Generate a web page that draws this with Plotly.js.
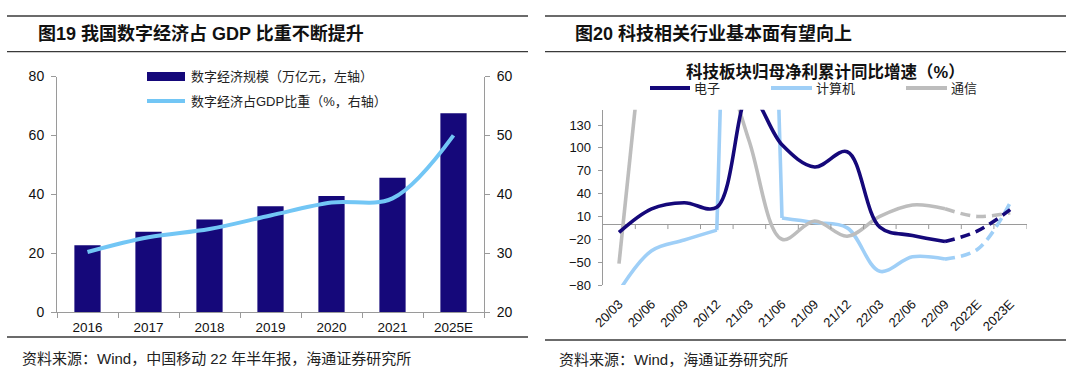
<!DOCTYPE html>
<html>
<head>
<meta charset="utf-8">
<script src="https://cdn.plot.ly/plotly-3.0.1.min.js"></script>
<style>html,body{margin:0;padding:0;background:#fff;}#chart{width:1080px;height:370px;}</style>
</head>
<body>
<div id="chart"></div>
<script>
// ---------- data: left chart ----------
const years = ['2016', '2017', '2018', '2019', '2020', '2021', '2025E'];
const digitalScale = [22.7, 27.3, 31.4, 35.9, 39.4, 45.6, 67.5];      // 万亿元, left axis
const digitalShare = [30.2, 32.7, 34.1, 36.4, 38.6, 39.3, 50.0];      // %, right axis

// ---------- data: right chart ----------
const quarters = ['20/03', '20/06', '20/09', '20/12', '21/03', '21/06', '21/09', '21/12', '22/03', '22/06', '22/09', '2022E', '2023E'];
const electronics = [-11, 20, 28, 22, 170, 104, 75, 95, -4, -15, -23, -9, 19];
const computers = [-88, -35, -21, -8, 1500, 8, 2, -5, -62, -43, -46, -33, 28];
const telecom = [-52, 360, 330, 240, 108, -20, 4, -16, 10, 25, 20, 10, 15];
const lastActualIndex = 10; // 22/09; later points are estimates (dashed)

// ---------- styles ----------
const NAVY = '#15087a';
const LBLUE_L = '#72c6f5';
const LBLUE_R = '#9fcff7';
const GRAY = '#bdbdbd';
const AXIS = '#9a9a9a';
const FONT = 'Liberation Sans, Arial, Noto Sans CJK SC, sans-serif';
const W = 1080, H = 370;
const px = v => v / W;
const py = v => 1 - v / H;

// keep only points i0..i1 of a series (others null) so a series can be drawn in styled pieces
const seg = (arr, i0, i1) => arr.map((v, i) => (i >= i0 && i <= i1) ? v : null);
const last = quarters.length - 1;

const traces = [];
traces.push({
  type: 'bar', x: years, y: digitalScale, xaxis: 'x', yaxis: 'y',
  marker: {color: NAVY}, width: 0.43, hoverinfo: 'skip'
});
traces.push({
  type: 'scatter', mode: 'lines', x: years, y: digitalShare, xaxis: 'x', yaxis: 'y2',
  line: {color: LBLUE_L, width: 4, shape: 'spline', smoothing: 1}, hoverinfo: 'skip'
});

function piece(arr, i0, i1, color, shape, dashed) {
  const line = {color: color, width: 3.6, shape: shape};
  if (shape === 'spline') line.smoothing = 1;
  if (dashed) line.dash = '10px,6px';
  traces.push({type: 'scatter', mode: 'lines', x: quarters, y: seg(arr, i0, i1), xaxis: 'x2', yaxis: 'y3',
    line: line, connectgaps: false, hoverinfo: 'skip'});
}
// 计算机
piece(computers, 0, 3, LBLUE_R, 'spline');
piece(computers, 3, 5, LBLUE_R, 'linear');
piece(computers, 5, lastActualIndex, LBLUE_R, 'spline');
piece(computers, lastActualIndex, last, LBLUE_R, 'spline', true);
// 通信
piece(telecom, 0, 1, GRAY, 'linear');
piece(telecom, 1, lastActualIndex, GRAY, 'spline');
piece(telecom, lastActualIndex, last, GRAY, 'spline', true);
// 电子
piece(electronics, 0, lastActualIndex, NAVY, 'spline');
piece(electronics, lastActualIndex, last, NAVY, 'spline', true);

const shapes = [];
// horizontal rules
[[16, 7, 528], [51.7, 7, 528], [337, 7, 528], [16, 545, 1066], [51.7, 545, 1066], [340, 545, 1066]].forEach(([y, x0, x1]) => {
  shapes.push({type: 'line', xref: 'paper', yref: 'paper', x0: px(x0), x1: px(x1), y0: py(y), y1: py(y),
    line: {color: '#3a3a3a', width: 1.3}});
});
// left legend symbols
shapes.push({type: 'rect', xref: 'paper', yref: 'paper', x0: px(147), x1: px(185), y0: py(72), y1: py(81),
  fillcolor: NAVY, line: {width: 0}});
shapes.push({type: 'line', xref: 'paper', yref: 'paper', x0: px(147), x1: px(185), y0: py(101), y1: py(101),
  line: {color: LBLUE_L, width: 4}});
// right legend symbols
[[650, 690, NAVY], [771, 812, LBLUE_R], [906, 947, GRAY]].forEach(([x0, x1, c]) => {
  shapes.push({type: 'line', xref: 'paper', yref: 'paper', x0: px(x0), x1: px(x1), y0: py(88), y1: py(88),
    line: {color: c, width: 4}});
});
// right x-axis tick marks on the zero line (category boundaries)
for (let k = 0; k < quarters.length; k++) {
  shapes.push({type: 'line', xref: 'x2', yref: 'y3', ysizemode: 'pixel', yanchor: 0,
    x0: k + 0.5, x1: k + 0.5, y0: 0, y1: -5, line: {color: AXIS, width: 1}});
}

const annotations = [
  {text: '<b>图19 我国数字经济占 GDP 比重不断提升</b>', x: px(36), y: py(34), xanchor: 'left', yanchor: 'middle',
    font: {size: 18, color: '#111', family: FONT}},
  {text: '<b>图20 科技相关行业基本面有望向上</b>', x: px(573), y: py(34), xanchor: 'left', yanchor: 'middle',
    font: {size: 18, color: '#111', family: FONT}},
  {text: '<b>科技板块归母净利累计同比增速（%）</b>', x: px(825), y: py(72), xanchor: 'center', yanchor: 'middle',
    font: {size: 16.5, color: '#111', family: FONT}},
  {text: '数字经济规模（万亿元，左轴）', x: px(189), y: py(76.5), xanchor: 'left', yanchor: 'middle',
    font: {size: 13, color: '#222', family: FONT}},
  {text: '数字经济占GDP比重（%，右轴）', x: px(189), y: py(101), xanchor: 'left', yanchor: 'middle',
    font: {size: 13, color: '#222', family: FONT}},
  {text: '电子', x: px(692), y: py(88), xanchor: 'left', yanchor: 'middle', font: {size: 13, color: '#222', family: FONT}},
  {text: '计算机', x: px(814), y: py(88), xanchor: 'left', yanchor: 'middle', font: {size: 13, color: '#222', family: FONT}},
  {text: '通信', x: px(949), y: py(88), xanchor: 'left', yanchor: 'middle', font: {size: 13, color: '#222', family: FONT}},
  {text: '资料来源：Wind，中国移动 22 年半年报，海通证券研究所', x: px(20), y: py(358), xanchor: 'left', yanchor: 'middle',
    font: {size: 15, color: '#222', family: FONT}},
  {text: '资料来源：Wind，海通证券研究所', x: px(557), y: py(359), xanchor: 'left', yanchor: 'middle',
    font: {size: 15, color: '#222', family: FONT}}
].map(a => Object.assign({xref: 'paper', yref: 'paper', showarrow: false}, a));

const layout = {
  width: W, height: H,
  margin: {l: 0, r: 0, t: 0, b: 0},
  paper_bgcolor: '#ffffff', plot_bgcolor: 'rgba(0,0,0,0)',
  showlegend: false,
  font: {family: FONT, color: '#111'},
  xaxis: {domain: [px(57), px(484)], anchor: 'y', type: 'category', showline: true, linecolor: AXIS, linewidth: 1,
    ticks: 'outside', tickson: 'boundaries', ticklen: 5, tickcolor: AXIS, tickfont: {size: 13.5, color: '#111'},
    ticklabelstandoff: 3, showgrid: false, zeroline: false, fixedrange: true},
  yaxis: {domain: [py(312), py(76.5)], anchor: 'x', range: [0, 80], dtick: 20, showline: true, linecolor: AXIS,
    ticks: 'outside', ticklen: 5, tickcolor: AXIS, tickfont: {size: 14, color: '#111'}, ticklabelstandoff: 4,
    showgrid: false, zeroline: false, fixedrange: true},
  yaxis2: {overlaying: 'y', side: 'right', anchor: 'x', range: [20, 60], dtick: 10, showline: true, linecolor: AXIS,
    ticks: 'outside', ticklen: 5, tickcolor: AXIS, tickfont: {size: 14, color: '#111'}, ticklabelstandoff: 4,
    showgrid: false, zeroline: false, fixedrange: true},
  xaxis2: {domain: [px(602.7), px(1026.5)], anchor: 'y3', type: 'category', range: [-0.5, quarters.length - 0.5],
    showline: false, ticks: '', tickangle: -45, tickfont: {size: 13, color: '#111'}, ticklabelstandoff: 8,
    showgrid: false, zeroline: false, fixedrange: true},
  yaxis3: {domain: [py(285), py(109.8)], anchor: 'x2', range: [-80, 150], tick0: -80, dtick: 30, showline: true,
    linecolor: AXIS, ticks: 'outside', ticklen: 4, tickcolor: AXIS, tickfont: {size: 13, color: '#111'},
    ticklabelstandoff: 4, showgrid: false, zeroline: true, zerolinecolor: AXIS, zerolinewidth: 1, fixedrange: true},
  shapes: shapes,
  annotations: annotations
};

Plotly.newPlot('chart', traces, layout, {displayModeBar: false, staticPlot: true});
</script>
</body>
</html>
